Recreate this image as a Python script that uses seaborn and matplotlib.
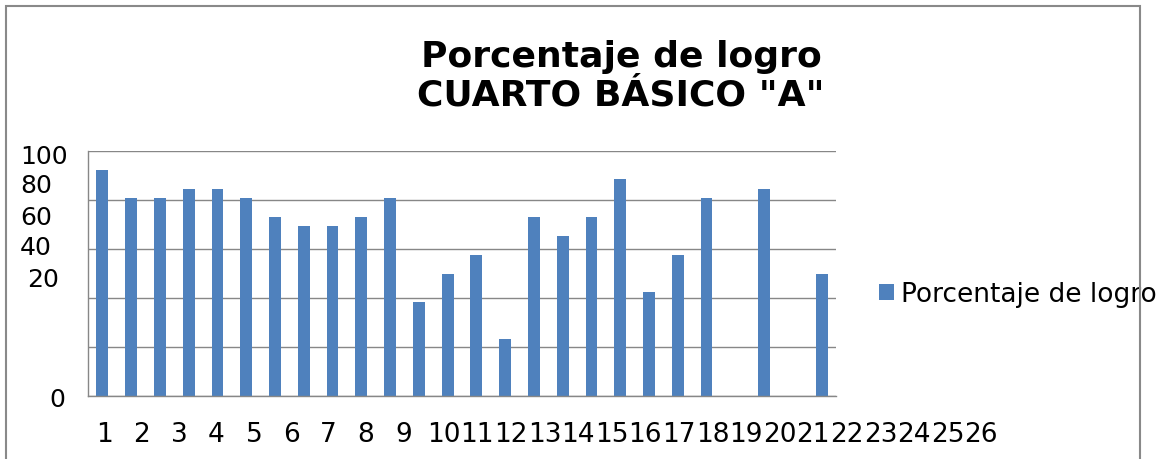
import numpy as np
import pandas as pd
import matplotlib
matplotlib.use("Agg")
import matplotlib.pyplot as plt
import seaborn as sns
from matplotlib.patches import Rectangle

# ---------------- data ----------------
categorias = [str(i) for i in range(1, 27)]
valores = [92.3, 80.8, 80.8, 84.6, 84.6, 80.8, 73.1, 69.2, 69.2, 73.1,
           80.8, 38.5, 50.0, 57.7, 23.1, 73.1, 65.4, 73.1, 88.5, 42.3,
           57.7, 80.8, np.nan, 84.6, np.nan, 50.0]
y_ticks = [0, 20, 40, 60, 80, 100]
y_labels = ["0", "20", "40", "60", "80", "100"]
serie = "Porcentaje de logro"
titulo = "Porcentaje de logro\nCUARTO BÁSICO \"A\""

# ---------------- layout (pixels) ----------------
W, H = 1162, 460
BAR = "#4F81BD"
GRID = "#878787"

sns.set_style("white")
plt.rcParams["font.family"] = ["DejaVu Sans"]
plt.rcParams["text.color"] = "black"

fig = plt.figure(figsize=(W / 100, H / 100), dpi=100)
ax = fig.add_axes([88 / W, 1 - 397 / H, (836 - 88) / W, (397 - 152) / H])

df = pd.DataFrame({"cat": categorias, "val": valores})
sns.barplot(data=df, x="cat", y="val", order=categorias, color=BAR,
            width=0.41, errorbar=None, linewidth=0, saturation=1,
            label=serie, ax=ax, legend=False)

ax.set_xlim(-0.5, len(categorias) - 0.5)
ax.set_ylim(0, 100)
ax.set_xlabel("")
ax.set_ylabel("")

# grid and axes
ax.set_yticks(y_ticks)
ax.set_yticklabels([""] * len(y_ticks))
ax.yaxis.grid(True, color=GRID, lw=1.0)
ax.set_axisbelow(True)
ax.set_xticks(np.arange(-0.5, len(categorias), 1.0))
ax.set_xticklabels([""] * (len(categorias) + 1))
ax.tick_params(axis="x", direction="out", length=6, width=1.0, color=GRID)
ax.tick_params(axis="y", direction="out", length=5.5, width=1.0, color=GRID)
for s in ["top", "right"]:
    ax.spines[s].set_visible(False)
for s in ["left", "bottom"]:
    ax.spines[s].set_color(GRID)
    ax.spines[s].set_linewidth(1.0)

# y tick labels as drawn in the reference (offset positions)
ylab_pos = {"100": (68, 157), "80": (52, 186), "60": (52, 218),
            "40": (52, 248), "20": (59, 280), "0": (65, 400)}
for lab in y_labels:
    px, py = ylab_pos[lab]
    fig.text(px / W, 1 - py / H, lab, ha="right", va="center", fontsize=18,
             color="black")

# x tick labels as drawn in the reference (text flow)
for i, lab in enumerate(categorias):
    if len(lab) == 1:
        px = 104.3 + 37.4 * i
        fig.text(px / W, 1 - 435.5 / H, lab, ha="center", va="center",
                 fontsize=19, color="black")
    else:
        px = 427 + 33.6 * (i - 9)
        fig.text(px / W, 1 - 435.5 / H, lab, ha="left", va="center",
                 fontsize=19, color="black")

# title
fig.text(621 / W, 1 - 40 / H, titulo, ha="center", va="top", fontsize=26,
         fontweight="bold", linespacing=1.15, color="black")

# legend
handles, labels = ax.get_legend_handles_labels()
leg = fig.legend(handles[:1], labels[:1], loc="center left",
                 bbox_to_anchor=(879 / W, 1 - 295 / H), frameon=False,
                 fontsize=19, handlelength=0.55, handleheight=0.55,
                 handletextpad=0.3, borderpad=0, borderaxespad=0)
for t in leg.get_texts():
    t.set_color("black")

# outer chart border
fig.patches.append(Rectangle((6 / W, -0.05), (1140 - 6) / W, 1 - 7 / H + 0.05,
                             transform=fig.transFigure, fill=False,
                             edgecolor="#898989", lw=1.5, zorder=10))

fig.savefig("out.png", dpi=100)
